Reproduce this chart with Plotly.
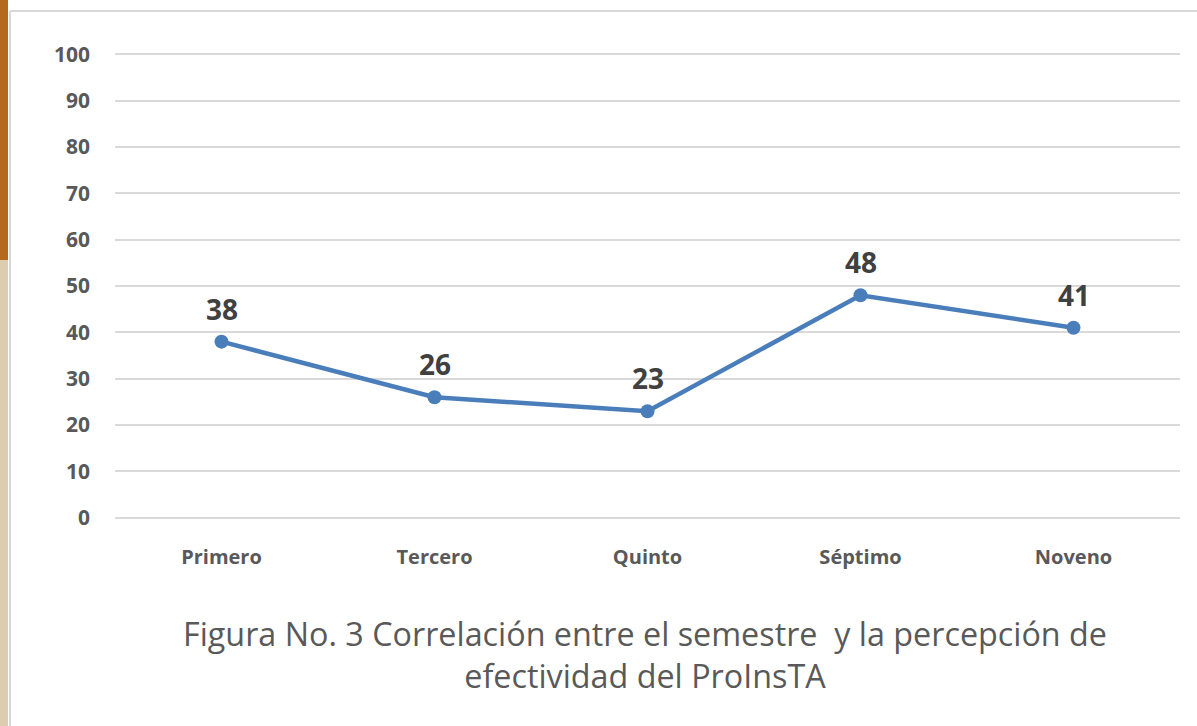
import plotly.graph_objects as go

# datos del gráfico
semestres = ["Primero", "Tercero", "Quinto", "Séptimo", "Noveno"]
valores = [38, 26, 23, 48, 41]
y_ticks = [0, 10, 20, 30, 40, 50, 60, 70, 80, 90, 100]
caption = "Figura No. 3 Correlación entre el semestre  y la percepción de<br>efectividad del ProInsTA"

W, H = 1197, 726
L, R, T, B = 115, 17, 53, 207


def px_x(px):
    return (px - L) / (W - L - R)


def px_y(py):
    return (H - B - py) / (H - B - T)


fig = go.Figure()
fig.add_trace(go.Scatter(
    x=semestres, y=valores,
    mode="lines+markers",
    line=dict(color="#4a7ebb", width=4.5),
    marker=dict(color="#4a7ebb", size=14),
    showlegend=False,
))

# etiquetas de datos encima de cada punto
etiquetas = [
    dict(x=s, y=v, text=str(v), xref="x", yref="y", showarrow=False,
         yshift=33, yanchor="middle",
         font=dict(family="Open Sans", size=28, color="#404040", weight="bold"))
    for s, v in zip(semestres, valores)
]

# franja de fondo a la izquierda y borde gris del recuadro
shapes = [
    dict(type="rect", xref="paper", yref="paper", x0=px_x(0), x1=px_x(8),
         y0=px_y(0), y1=px_y(260), fillcolor="#b5691c", line_width=0, layer="below"),
    dict(type="rect", xref="paper", yref="paper", x0=px_x(0), x1=px_x(8),
         y0=px_y(260), y1=px_y(726), fillcolor="#dccdb0", line_width=0, layer="below"),
    dict(type="line", xref="paper", yref="paper", x0=px_x(10), x1=px_x(10),
         y0=px_y(11), y1=px_y(726), line=dict(color="#d9d9d9", width=2)),
    dict(type="line", xref="paper", yref="paper", x0=px_x(10), x1=px_x(1197),
         y0=px_y(11), y1=px_y(11), line=dict(color="#d9d9d9", width=2)),
]

fig.update_layout(
    width=W, height=H,
    margin=dict(l=L, r=R, t=T, b=B),
    paper_bgcolor="white", plot_bgcolor="white",
    font=dict(family="Open Sans", color="#595959"),
    shapes=shapes,
    annotations=etiquetas + [dict(
        text=caption, xref="paper", yref="paper",
        x=px_x(645), y=px_y(654), xanchor="center", yanchor="middle",
        showarrow=False, align="center",
        font=dict(family="Open Sans", size=32.3, color="#595959"),
    )],
)
fig.update_xaxes(
    range=[-0.5, 4.5],
    showgrid=False, showline=False, ticks="",
    tickfont=dict(size=20, color="#595959", weight="bold"),
    ticklabelstandoff=24,
)
fig.update_yaxes(
    range=[-0.25, 100.25], tickvals=y_ticks,
    showgrid=True, gridcolor="#d9d9d9", gridwidth=1.5,
    zeroline=False, showline=False, ticks="",
    tickfont=dict(size=21, color="#595959", weight="bold"),
    ticklabelstandoff=24,
)

fig.write_html(
    "out.html",
    config={"displayModeBar": False},
    post_script="document.body.style.margin='0';document.body.style.overflow='hidden';",
)
